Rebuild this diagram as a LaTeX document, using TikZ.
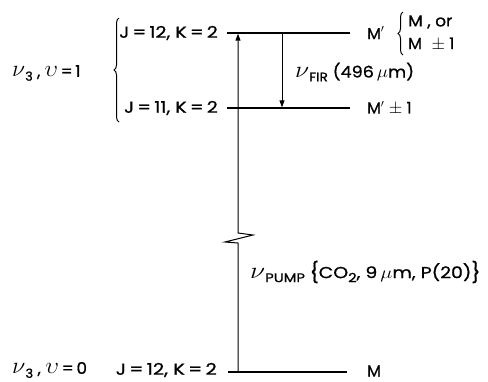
\documentclass[tikz,border=0pt]{standalone}
\usepackage{graphicx}
\usepackage{fontspec}
\setmainfont[FakeBold=0.8]{Poppins}
\usetikzlibrary{arrows.meta,decorations.pathreplacing}
\newcommand{\lsub}[1]{\raisebox{-0.45ex}{\fontsize{12.5}{13}\selectfont #1}}
\newcommand{\gnu}{\scalebox{1.35}{$\nu$}}
\newcommand{\gups}{\scalebox{1.35}{$\upsilon$}}
\newcommand{\tbrace}[1]{\raisebox{-0.15ex}{\scalebox{1}[1.25]{#1}}}
\newcommand{\xs}[2]{\scalebox{#1}[1]{#2}}
\begin{document}
\begin{tikzpicture}[x=1pt,y=-1pt,
  level/.style={line width=1.4pt},
  trans/.style={line width=1pt,-{Triangle[length=7pt,width=5pt]}},
  lbl/.style={font=\fontsize{16}{18}\selectfont, inner sep=0pt, anchor=west},
  bracegrp/.style={decorate,decoration={brace,amplitude=5pt},line width=1pt}]
\useasboundingbox (0,0) rectangle (488,381);
% levels
\coordinate (u1) at (227,33);  \coordinate (u2) at (350,33);
\coordinate (m1) at (227,108); \coordinate (m2) at (350,108);
\coordinate (b1) at (228,372); \coordinate (b2) at (347,372);
\draw[level] (u1) -- (u2);
\draw[level] (m1) -- (m2);
\draw[level] (b1) -- (b2);
% pump transition with break
\coordinate (pB) at (238,372);
\coordinate (z1) at (238,243);
\coordinate (z2) at (225,242);
\coordinate (z3) at (253,235);
\coordinate (z4) at (238,233);
\coordinate (pT) at (238,33.7);
\draw[trans] (pB) -- (z1) -- (z2) -- (z3) -- (z4) -- (pT);
% FIR transition
\coordinate (fT) at (282,33.7);
\coordinate (fB) at (282,107.3);
\draw[trans] (fT) -- (fB);
% left labels
\node[lbl] (v1) at (12,73) {\xs{1.02}{\gnu\lsub{3} , \gups\,=\,1}};
\coordinate (lb1) at (119,122); \coordinate (lb2) at (119,18);
\draw[bracegrp] (lb1) -- (lb2);
\node[lbl,anchor=east] (j12) at (218,33) {\xs{1.19}{J\,=\,12, K\,=\,2}};
\node[lbl,anchor=east] (j11) at (218,108) {\xs{1.19}{J\,=\,11, K\,=\,2}};
% right labels
\node[lbl] (mp) at (367,33) {M$'$};
\coordinate (rb1) at (403,55); \coordinate (rb2) at (403,12);
\draw[bracegrp] (rb1) -- (rb2);
\node[lbl] (mor) at (408,22) {\xs{1.06}{M , or}};
\node[lbl] (mpm) at (408,44) {M\,\, $\pm$ 1};
\node[lbl] (fir) at (295,72) {\xs{1.1}{\gnu\lsub{FIR} (496\,$\mu$m)}};
\node[lbl] (mp1) at (367,108) {M$'$ $\pm$ 1};
\node[lbl] (pump) at (250,272) {\xs{1.18}{\gnu\lsub{PUMP} \tbrace{\{}CO\lsub{2}, 9\,$\mu$m, P(20)\tbrace{\}}}};
% bottom labels
\node[lbl] (v0) at (12,370) {\xs{1.04}{\gnu\lsub{3} , \gups\,=\,0}};
\node[lbl,anchor=east] (j12b) at (217,370) {\xs{1.22}{J\,=\,12, K\,=\,2}};
\node[lbl] (m0) at (367,371) {M};
\end{tikzpicture}
\end{document}
